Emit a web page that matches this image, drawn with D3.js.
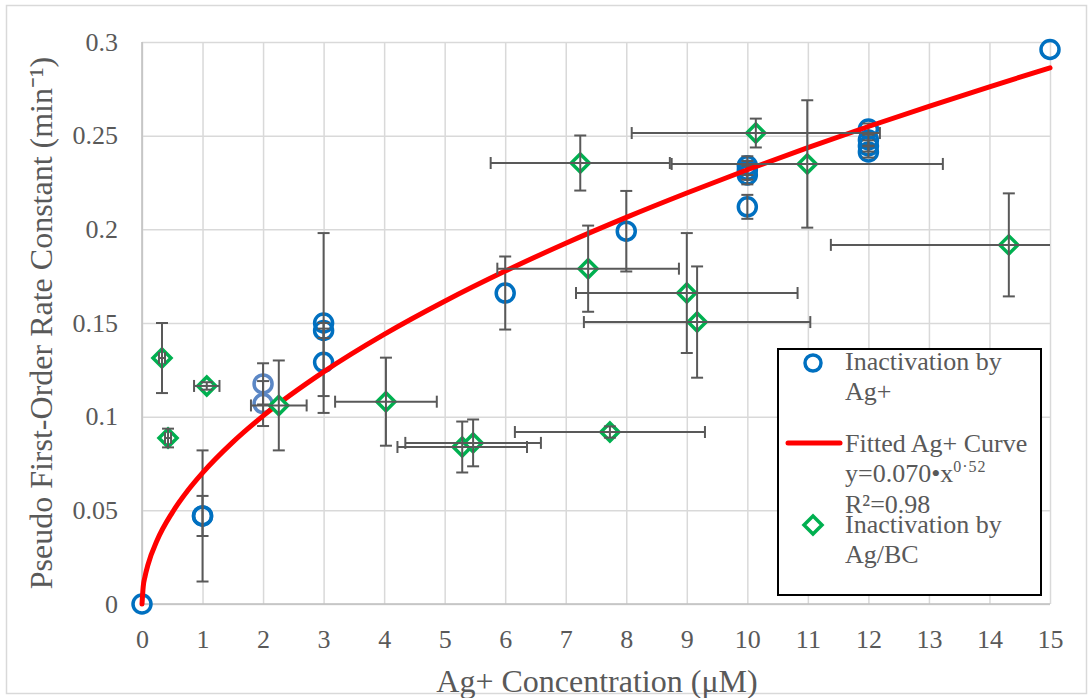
<!DOCTYPE html>
<html>
<head>
<meta charset="utf-8">
<script src="https://cdn.jsdelivr.net/npm/d3@7"></script>
<style>
  body { margin: 0; background: #fff; }
  text { font-family: "Liberation Serif", "Times New Roman", serif; fill: #595959; }
</style>
</head>
<body>
<div id="chart"></div>
<script>
// Inactivation by Ag+ (blue circles)
const agX = [0, 1, 1, 3, 3, 3, 6, 8, 10, 10, 10, 10, 12, 12, 12, 12, 15];
const agY = [0, 0.047, 0.047, 0.150, 0.146, 0.129, 0.166, 0.199, 0.234, 0.2315, 0.229, 0.212, 0.2535, 0.2477, 0.2445, 0.2413, 0.296];
const agErr = [0, 0.0107, 0.035, 0.048, 0.004, 0.018, 0.0195, 0.0215, 0.005, 0.005, 0.005, 0.0064, 0.003, 0.003, 0.003, 0.003, 0];

// the two lighter circles at 2 uM
const agLightX = [2, 2];
const agLightY = [0.1175, 0.107];
const agLightErr = [0.011, 0.012];

// Inactivation by Ag/BC (green diamonds)
const bcX = [0.33, 1.07, 0.43, 2.26, 4.03, 5.29, 5.47, 7.73, 7.24, 7.37, 9.0, 9.17, 10.14, 10.99, 14.32];
const bcY = [0.1313, 0.1164, 0.0886, 0.106, 0.108, 0.0838, 0.086, 0.0918, 0.2354, 0.179, 0.166, 0.1505, 0.2514, 0.2349, 0.1917];
const bcYErr = [0.0187, 0.002, 0.005, 0.024, 0.0235, 0.0136, 0.0125, 0.003, 0.0147, 0.023, 0.032, 0.0297, 0.0077, 0.034, 0.0275];
const bcXErr = [0.05, 0.21, 0.05, 0.46, 0.84, 1.07, 1.12, 1.57, 1.48, 1.5, 1.83, 1.87, 2.05, 2.24, 2.94];

// fitted Ag+ curve
const fitX = [0, 0.02, 0.05, 0.1, 0.25, 0.5, 0.75, 1, 1.5, 2, 3, 4, 5, 6, 7, 8, 9, 10, 11, 12, 13, 14, 15];
const fitY = [0, 0.0092, 0.0147, 0.0211, 0.034, 0.0488, 0.0603, 0.070, 0.0864, 0.1004, 0.1239, 0.1439, 0.1616, 0.1777, 0.1926, 0.2064, 0.2194, 0.2318, 0.2436, 0.2549, 0.2657, 0.2761, 0.2862];

const xTicks = [0, 1, 2, 3, 4, 5, 6, 7, 8, 9, 10, 11, 12, 13, 14, 15];
const yTicks = [0, 0.05, 0.1, 0.15, 0.2, 0.25, 0.3];

const width = 1091;
const height = 698;
const plotLeft = 142, plotRight = 1050, plotTop = 42, plotBottom = 604;

const svg = d3.select("#chart").append("svg")
  .attr("width", width)
  .attr("height", height);

// outer border
svg.append("rect")
  .attr("x", 6.5).attr("y", 5.5)
  .attr("width", 1080).attr("height", 688)
  .attr("fill", "#fff")
  .attr("stroke", "#d9d9d9")
  .attr("stroke-width", 1.5);

const x = d3.scaleLinear().domain([0, 15]).range([plotLeft, plotRight]);
const y = d3.scaleLinear().domain([0, 0.3]).range([plotBottom, plotTop]);

svg.append("clipPath").attr("id", "plot")
  .append("rect")
  .attr("x", plotLeft).attr("y", plotTop - 20)
  .attr("width", plotRight - plotLeft).attr("height", plotBottom - plotTop + 40);

// gridlines + tick labels
const gx = svg.append("g")
  .attr("transform", `translate(0,${plotBottom})`)
  .call(d3.axisBottom(x).tickValues(xTicks).tickSize(-(plotBottom - plotTop)).tickPadding(26).tickFormat(d3.format("d")));
const gy = svg.append("g")
  .attr("transform", `translate(${plotLeft},0)`)
  .call(d3.axisLeft(y).tickValues(yTicks).tickSize(-(plotRight - plotLeft)).tickPadding(24).tickFormat(d => d === 0 ? "0" : String(+d.toFixed(2))));

[gx, gy].forEach(g => {
  g.select(".domain").remove();
  g.selectAll("line").attr("stroke", "#d9d9d9").attr("stroke-width", 1.5);
  g.selectAll("text").attr("font-size", 26).attr("fill", "#595959")
    .attr("font-family", "Liberation Serif, Times New Roman, serif");
});

// axis lines
svg.append("line").attr("x1", plotLeft).attr("x2", plotLeft).attr("y1", plotTop).attr("y2", plotBottom)
  .attr("stroke", "#bfbfbf").attr("stroke-width", 1.5);
svg.append("line").attr("x1", plotLeft).attr("x2", plotRight).attr("y1", plotBottom).attr("y2", plotBottom)
  .attr("stroke", "#bfbfbf").attr("stroke-width", 1.5);

// axis titles
svg.append("text")
  .attr("x", 597).attr("y", 692)
  .attr("text-anchor", "middle")
  .attr("font-size", 32)
  .text("Ag+ Concentration (μM)");

svg.append("text")
  .attr("transform", "translate(52,323) rotate(-90)")
  .attr("text-anchor", "middle")
  .attr("font-size", 32)
  .text("Pseudo First-Order Rate Constant (min⁻¹)");

const plot = svg.append("g").attr("clip-path", "url(#plot)");
const marks = svg.append("g");
const cap = 6;
const errColor = "#595959";

function vErr(g, xs, ys, es) {
  xs.forEach((xv, i) => {
    if (!es[i]) return;
    const cx = x(xv), y1 = y(ys[i] + es[i]), y2 = y(ys[i] - es[i]);
    g.append("line").attr("x1", cx).attr("x2", cx).attr("y1", y1).attr("y2", y2);
    g.append("line").attr("x1", cx - cap).attr("x2", cx + cap).attr("y1", y1).attr("y2", y1);
    g.append("line").attr("x1", cx - cap).attr("x2", cx + cap).attr("y1", y2).attr("y2", y2);
  });
}
function hErr(g, xs, ys, es) {
  xs.forEach((xv, i) => {
    if (!es[i]) return;
    const cy = y(ys[i]), x1 = x(xv - es[i]), x2 = x(xv + es[i]);
    g.append("line").attr("x1", x1).attr("x2", x2).attr("y1", cy).attr("y2", cy);
    g.append("line").attr("x1", x1).attr("x2", x1).attr("y1", cy - cap).attr("y2", cy + cap);
    g.append("line").attr("x1", x2).attr("x2", x2).attr("y1", cy - cap).attr("y2", cy + cap);
  });
}

// Ag+ circles
marks.selectAll("circle.ag")
  .data(agX.map((d, i) => [d, agY[i]]))
  .enter().append("circle")
  .attr("cx", d => x(d[0])).attr("cy", d => y(d[1])).attr("r", 9)
  .attr("fill", "none").attr("stroke", "#0070c0").attr("stroke-width", 3.5);
marks.selectAll("circle.agl")
  .data(agLightX.map((d, i) => [d, agLightY[i]]))
  .enter().append("circle")
  .attr("cx", d => x(d[0])).attr("cy", d => y(d[1])).attr("r", 9)
  .attr("fill", "none").attr("stroke", "#5b87c5").attr("stroke-width", 3.5);

const agErrG = marks.append("g").attr("stroke", errColor).attr("stroke-width", 2);
vErr(agErrG, agX, agY, agErr);
vErr(agErrG, agLightX, agLightY, agLightErr);

// fitted curve
const line = d3.line().x((d, i) => x(fitX[i])).y(d => y(d)).curve(d3.curveMonotoneX);
marks.append("path")
  .attr("d", line(fitY))
  .attr("fill", "none").attr("stroke", "#ff0000").attr("stroke-width", 5)
  .attr("stroke-linecap", "round");

// Ag/BC diamonds
const diamond = s => `M0,${-s}L${s},0L0,${s}L${-s},0Z`;
marks.selectAll("path.bc")
  .data(bcX.map((d, i) => [d, bcY[i]]))
  .enter().append("path")
  .attr("transform", d => `translate(${x(d[0])},${y(d[1])})`)
  .attr("d", diamond(9))
  .attr("fill", "#fff").attr("stroke", "#00b050").attr("stroke-width", 3.5);

// horizontal bars run past the plot edge, so clip them
const bcErrG = svg.append("g").attr("clip-path", "url(#plot)")
  .attr("stroke", errColor).attr("stroke-width", 2);
vErr(bcErrG, bcX, bcY, bcYErr);
hErr(bcErrG, bcX, bcY, bcXErr);

// legend
const lg = svg.append("g");
lg.append("rect")
  .attr("x", 778).attr("y", 349).attr("width", 263).attr("height", 246)
  .attr("fill", "#fff").attr("stroke", "#000").attr("stroke-width", 2);
lg.append("circle").attr("cx", 813).attr("cy", 363).attr("r", 8)
  .attr("fill", "none").attr("stroke", "#0070c0").attr("stroke-width", 3.5);
lg.append("line").attr("x1", 788).attr("x2", 840).attr("y1", 443).attr("y2", 443)
  .attr("stroke", "#ff0000").attr("stroke-width", 5).attr("stroke-linecap", "round");
lg.append("path").attr("transform", "translate(813,525)").attr("d", diamond(9))
  .attr("fill", "#fff").attr("stroke", "#00b050").attr("stroke-width", 3.5);

const legendLines = [
  ["Inactivation by", 370],
  ["Ag+", 400],
  ["Fitted Ag+ Curve", 452],
  ["R²=0.98", 513],
  ["Inactivation by", 533],
  ["Ag/BC", 563]
];
legendLines.forEach(d => {
  lg.append("text").attr("x", 845).attr("y", d[1]).attr("font-size", 26).text(d[0]);
});
const eq = lg.append("text").attr("x", 845).attr("y", 482).attr("font-size", 26);
eq.append("tspan").text("y=0.070•x");
eq.append("tspan").attr("dy", -10).attr("font-size", 16).attr("letter-spacing", 1).text("0·52");
</script>
</body>
</html>
